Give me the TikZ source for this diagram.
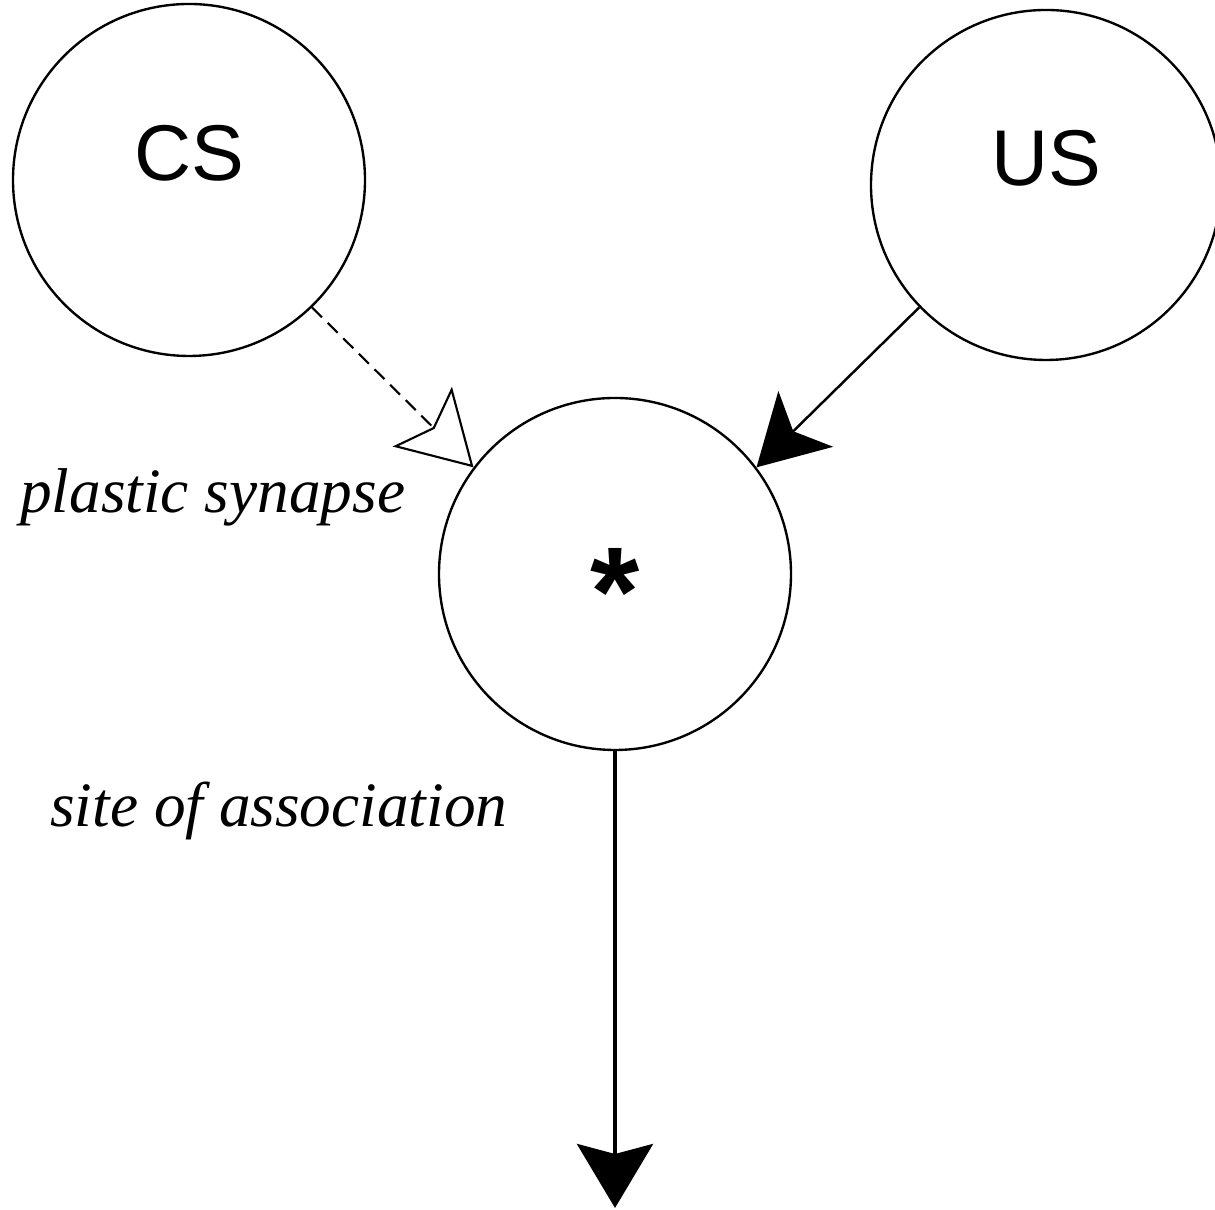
\documentclass[tikz,border=0pt]{standalone}
\usepackage{fontspec}
\setmainfont{Liberation Serif}
\newfontfamily\cellfont{Liberation Sans}
\usetikzlibrary{arrows.meta}

\begin{document}
\begin{tikzpicture}[
	cell/.style={draw, circle, line width=1.35pt, minimum size=7.04cm, inner sep=0pt,
		font=\cellfont\fontsize{45}{54}\selectfont, text height=7.2pt, text depth=6.7pt},
	lbl/.style={anchor=base west, inner sep=0pt, font=\fontsize{36}{43}\selectfont\itshape},
	plastic/.style={line width=1.2pt, dash pattern=on 8pt off 4.5pt,
		-{Stealth[open, length=1.44cm, width=1.68cm, inset=0.3cm]}},
	fixed/.style={line width=1.4pt, -{Stealth[length=1.38cm, width=1.56cm, inset=0.35cm]}},
	output/.style={line width=2.3pt, -{Stealth[length=1.28cm, width=1.52cm, inset=0.2cm]}}
	]
			%%%%% START %%%%%
			\useasboundingbox (0, 0) rectangle (24.3, 24.2);
			
			\node[cell] (cs) at (3.78, 20.6) {CS};
			\node[cell, minimum size=7cm] (us) at (20.92, 20.5) {US};
			\node[cell, font=\cellfont\bfseries\fontsize{72}{86}\selectfont,
				text height=70pt, text depth=0pt] (star) at (12.3, 12.72) {*};
			\coordinate (out) at (12.3, 0.04);
			
			\node[lbl] (plastic) at (0.4, 13.94) {plastic synapse};
			\node[lbl] (site) at (1.0, 7.66) {site of association};
			
			\draw[plastic] (cs.-46) -- (star.143);
			\draw[fixed] (us.-136) -- (star.37);
			\draw[output] (star.south) -- (out);
			%%%%% END %%%%%
		\end{tikzpicture}
\end{document}
